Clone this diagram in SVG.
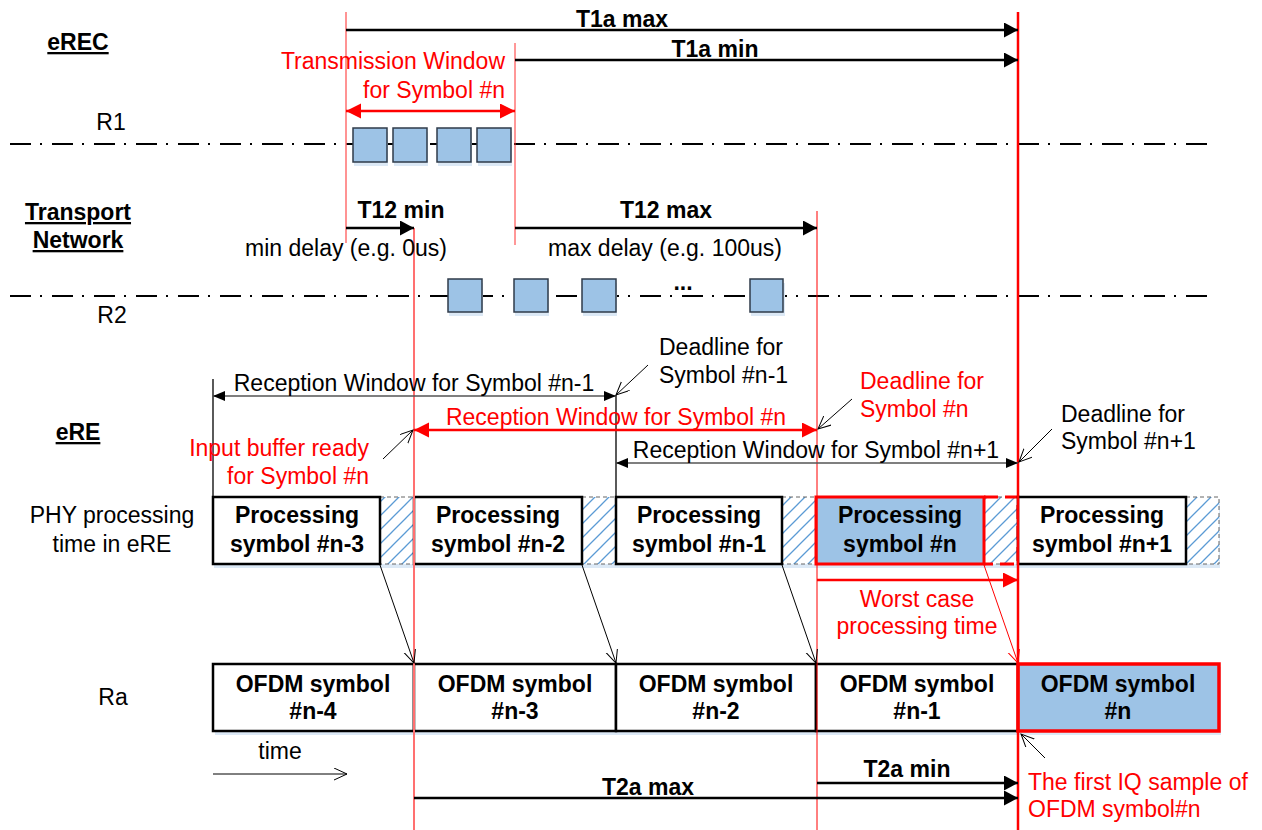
<svg xmlns="http://www.w3.org/2000/svg" width="1262" height="830" viewBox="0 0 1262 830">
<style>
text{font-family:"Liberation Sans",Arial,sans-serif;font-size:23px;fill:#000}
.b{font-weight:bold}
.r{fill:#FF0000}
.m{text-anchor:middle}
.e{text-anchor:end}
.u{text-decoration:underline}
.dd{fill:none;stroke:#000;stroke-width:2;stroke-dasharray:21 9 2 10}
.pk{fill:#9DC3E6;stroke:#2F3B4A;stroke-width:1.5}
.sh{fill:#DCE9F6}
.box{fill:#fff;stroke:#000;stroke-width:2.5}
.hat{fill:url(#hatch);stroke:#666;stroke-width:1;stroke-dasharray:4 3}
.ar{fill:none;stroke:#000;stroke-width:2.5}
.arr{fill:none;stroke:#FF0000;stroke-width:2.5}
.thin{fill:none;stroke:#000;stroke-width:1}
.thr{fill:none;stroke:#FF0000;stroke-width:1}
.vl{fill:none;stroke:#000;stroke-width:1.3}
</style>
<defs>
<pattern id="hatch" patternUnits="userSpaceOnUse" width="14" height="14">
<rect width="14" height="14" fill="#fff"/>
<path d="M0,14 L14,0 M-3.5,3.5 L3.5,-3.5 M10.5,17.5 L17.5,10.5" stroke="#5B9BD5" stroke-width="1.3"/>
</pattern>
<marker id="ab" markerUnits="userSpaceOnUse" markerWidth="16" markerHeight="16" refX="14" refY="7.5" orient="auto-start-reverse" viewBox="0 0 16 16"><path d="M0,0 L14,7.5 L0,15 z" fill="#000"/></marker>
<marker id="abs" markerUnits="userSpaceOnUse" markerWidth="14" markerHeight="12" refX="12" refY="5" orient="auto-start-reverse" viewBox="0 0 14 12"><path d="M0,0 L12,5 L0,10 z" fill="#000"/></marker>
<marker id="ar" markerUnits="userSpaceOnUse" markerWidth="16" markerHeight="16" refX="15" refY="7.5" orient="auto-start-reverse" viewBox="0 0 16 16"><path d="M0,0 L15,7.5 L0,15 z" fill="#FF0000"/></marker>
<marker id="ao" markerUnits="userSpaceOnUse" markerWidth="16" markerHeight="14" refX="13" refY="6" orient="auto" viewBox="0 0 16 14"><path d="M0,0 L13,6 L0,12" fill="none" stroke="#000" stroke-width="1"/></marker>
<marker id="aor" markerUnits="userSpaceOnUse" markerWidth="16" markerHeight="14" refX="13" refY="6" orient="auto" viewBox="0 0 16 14"><path d="M0,0 L13,6 L0,12" fill="none" stroke="#FF0000" stroke-width="1"/></marker>
</defs>

<g id="axes">
<line class="dd" x1="10" y1="144" x2="1216" y2="144"/>
<line class="dd" x1="10" y1="296" x2="1216" y2="296"/>
</g>

<g id="labels">
<text class="b u m" x="78" y="50">eREC</text>
<text class="m" x="111" y="130">R1</text>
<text class="b u m" x="78" y="220">Transport</text>
<text class="b u m" x="78" y="248">Network</text>
<text class="m" x="112" y="323">R2</text>
<text class="b u m" x="78" y="440">eRE</text>
<text class="m" x="112" y="523">PHY processing</text>
<text class="m" x="112" y="552">time in eRE</text>
<text class="m" x="113" y="705">Ra</text>
<text class="m" x="280" y="759">time</text>
</g>

<g id="r1-packets">
<rect class="sh" x="354" y="132" width="34" height="34"/>
<rect class="sh" x="394" y="132" width="34" height="34"/>
<rect class="sh" x="438" y="132" width="34" height="34"/>
<rect class="sh" x="478" y="132" width="34" height="34"/>
<rect class="pk" x="353" y="128" width="34" height="34"/>
<rect class="pk" x="393" y="128" width="34" height="34"/>
<rect class="pk" x="437" y="128" width="34" height="34"/>
<rect class="pk" x="477" y="128" width="34" height="34"/>
</g>

<g id="r2-packets">
<rect class="sh" x="449" y="283" width="34" height="33"/>
<rect class="sh" x="515" y="283" width="34" height="33"/>
<rect class="sh" x="583" y="283" width="34" height="33"/>
<rect class="sh" x="751" y="283" width="34" height="33"/>
<rect class="pk" x="448" y="279" width="34" height="33"/>
<rect class="pk" x="514" y="279" width="34" height="33"/>
<rect class="pk" x="582" y="279" width="34" height="33"/>
<rect class="pk" x="750" y="279" width="33" height="33"/>
<text class="b m" x="683" y="290">...</text>
</g>

<g id="processing">
<rect class="sh" x="214" y="500" width="1006" height="68"/>
<rect class="hat" x="380" y="497" width="34" height="67"/>
<rect class="hat" x="582" y="497" width="34" height="67"/>
<rect class="hat" x="782" y="497" width="34" height="67"/>
<rect class="hat" x="984" y="497" width="34" height="67"/>
<rect class="hat" x="1186" y="497" width="33" height="67"/>
<rect class="box" x="213" y="497" width="167" height="67"/>
<rect class="box" x="414" y="497" width="168" height="67"/>
<rect class="box" x="616" y="497" width="166" height="67"/>
<rect x="816" y="497" width="168" height="67" fill="#9DC3E6" stroke="#FF0000" stroke-width="3"/>
<path d="M984,497 H1018 V564 H984" fill="none" stroke="#FF0000" stroke-width="3" stroke-dasharray="14 7"/>
<rect class="box" x="1018" y="497" width="168" height="67"/>
<text class="b m" x="297" y="523">Processing</text>
<text class="b m" x="297" y="552">symbol #n-3</text>
<text class="b m" x="498" y="523">Processing</text>
<text class="b m" x="498" y="552">symbol #n-2</text>
<text class="b m" x="699" y="523">Processing</text>
<text class="b m" x="699" y="552">symbol #n-1</text>
<text class="b m" x="900" y="523">Processing</text>
<text class="b m" x="900" y="552">symbol #n</text>
<text class="b m" x="1102" y="523">Processing</text>
<text class="b m" x="1102" y="552">symbol #n+1</text>
</g>

<g id="ofdm">
<rect class="sh" x="215" y="667" width="1006" height="68"/>
<rect class="box" x="213" y="664" width="201" height="67"/>
<rect class="box" x="414" y="664" width="202" height="67"/>
<rect class="box" x="616" y="664" width="200" height="67"/>
<rect class="box" x="816" y="664" width="202" height="67"/>
<rect x="1018" y="664" width="201" height="67" fill="#9DC3E6" stroke="#FF0000" stroke-width="3.5"/>
<text class="b m" x="313" y="692">OFDM symbol</text>
<text class="b m" x="313" y="719">#n-4</text>
<text class="b m" x="515" y="692">OFDM symbol</text>
<text class="b m" x="515" y="719">#n-3</text>
<text class="b m" x="716" y="692">OFDM symbol</text>
<text class="b m" x="716" y="719">#n-2</text>
<text class="b m" x="917" y="692">OFDM symbol</text>
<text class="b m" x="917" y="719">#n-1</text>
<text class="b m" x="1118" y="692">OFDM symbol</text>
<text class="b m" x="1118" y="719">#n</text>
</g>

<g id="time-markers">
<line x1="346" y1="12" x2="346" y2="243" stroke="#FF6F6F" stroke-width="1.5"/>
<line x1="515" y1="43" x2="515" y2="245" stroke="#FF3030" stroke-width="1"/>
<line x1="414" y1="228" x2="414" y2="830" stroke="#FF7070" stroke-width="2"/>
<line x1="817" y1="211" x2="817" y2="830" stroke="#FF0000" stroke-width="1"/>
<line x1="1018" y1="12" x2="1018" y2="830" stroke="#FF0000" stroke-width="2.5"/>
<line class="vl" x1="213" y1="379" x2="213" y2="497"/>
<line class="vl" x1="616" y1="395" x2="616" y2="497"/>
</g>

<g id="connectors">
<line class="ar" x1="346" y1="30" x2="1018" y2="30" marker-end="url(#ab)"/>
<line class="ar" x1="515" y1="60" x2="1018" y2="60" marker-end="url(#ab)"/>
<line class="arr" x1="346" y1="111" x2="515" y2="111" marker-start="url(#ar)" marker-end="url(#ar)"/>
<line class="ar" x1="346" y1="228" x2="414" y2="228" marker-end="url(#ab)"/>
<line class="ar" x1="515" y1="228" x2="817" y2="228" marker-end="url(#ab)"/>
<line x1="213" y1="396" x2="616" y2="396" stroke="#555" stroke-width="1.5" marker-start="url(#abs)" marker-end="url(#abs)"/>
<line class="arr" x1="414" y1="430" x2="817" y2="430" marker-start="url(#ar)" marker-end="url(#ar)"/>
<line x1="616" y1="463" x2="1018" y2="463" stroke="#555" stroke-width="1.5" marker-start="url(#abs)" marker-end="url(#abs)"/>
<line class="thin" x1="648" y1="365" x2="616" y2="395" marker-end="url(#ao)"/>
<line class="thin" x1="852" y1="399" x2="818" y2="429" marker-end="url(#ao)"/>
<line class="thin" x1="1052" y1="429" x2="1019" y2="462" marker-end="url(#ao)"/>
<line class="thin" x1="383" y1="459" x2="413" y2="430" marker-end="url(#ao)"/>
<line class="arr" x1="817" y1="580" x2="1018" y2="580" marker-end="url(#ar)"/>
<line class="thin" x1="380" y1="565" x2="414" y2="663" marker-end="url(#ao)"/>
<line class="thin" x1="582" y1="565" x2="616" y2="663" marker-end="url(#ao)"/>
<line class="thin" x1="782" y1="565" x2="816" y2="663" marker-end="url(#ao)"/>
<line class="thr" x1="984" y1="565" x2="1018" y2="663" marker-end="url(#aor)"/>
<line class="thin" x1="213" y1="774" x2="347" y2="774" marker-end="url(#ao)"/>
<line class="ar" x1="817" y1="783" x2="1018" y2="783" marker-end="url(#ab)"/>
<line class="ar" x1="414" y1="798" x2="1018" y2="798" marker-end="url(#ab)"/>
<line class="thin" x1="1045" y1="758" x2="1021" y2="734" marker-end="url(#ao)"/>
</g>

<g id="annotations">
<text class="b m" x="622" y="27">T1a max</text>
<text class="b m" x="715" y="57">T1a min</text>
<text class="r e" x="505" y="69">Transmission Window</text>
<text class="r e" x="505" y="98">for Symbol #n</text>
<text class="b m" x="401" y="218">T12 min</text>
<text class="m" x="346" y="256">min delay (e.g. 0us)</text>
<text class="b m" x="666" y="218">T12 max</text>
<text class="m" x="665" y="256">max delay (e.g. 100us)</text>
<text x="659" y="355">Deadline for</text>
<text x="659" y="383">Symbol #n-1</text>
<text class="m" x="414" y="391">Reception Window for Symbol #n-1</text>
<text class="r" x="860" y="389">Deadline for</text>
<text class="r" x="860" y="417">Symbol #n</text>
<text class="r m" x="616" y="425">Reception Window for Symbol #n</text>
<text x="1061" y="422">Deadline for</text>
<text x="1061" y="449">Symbol #n+1</text>
<text class="m" x="816" y="458">Reception Window for Symbol #n+1</text>
<text class="r e" x="369" y="456">Input buffer ready</text>
<text class="r e" x="369" y="484">for Symbol #n</text>
<text class="r m" x="917" y="607">Worst case</text>
<text class="r m" x="917" y="634">processing time</text>
<text class="b m" x="907" y="777">T2a min</text>
<text class="b m" x="648" y="795">T2a max</text>
<text class="r" x="1028" y="790">The first IQ sample of</text>
<text class="r" x="1028" y="817">OFDM symbol#n</text>
</g>
</svg>
